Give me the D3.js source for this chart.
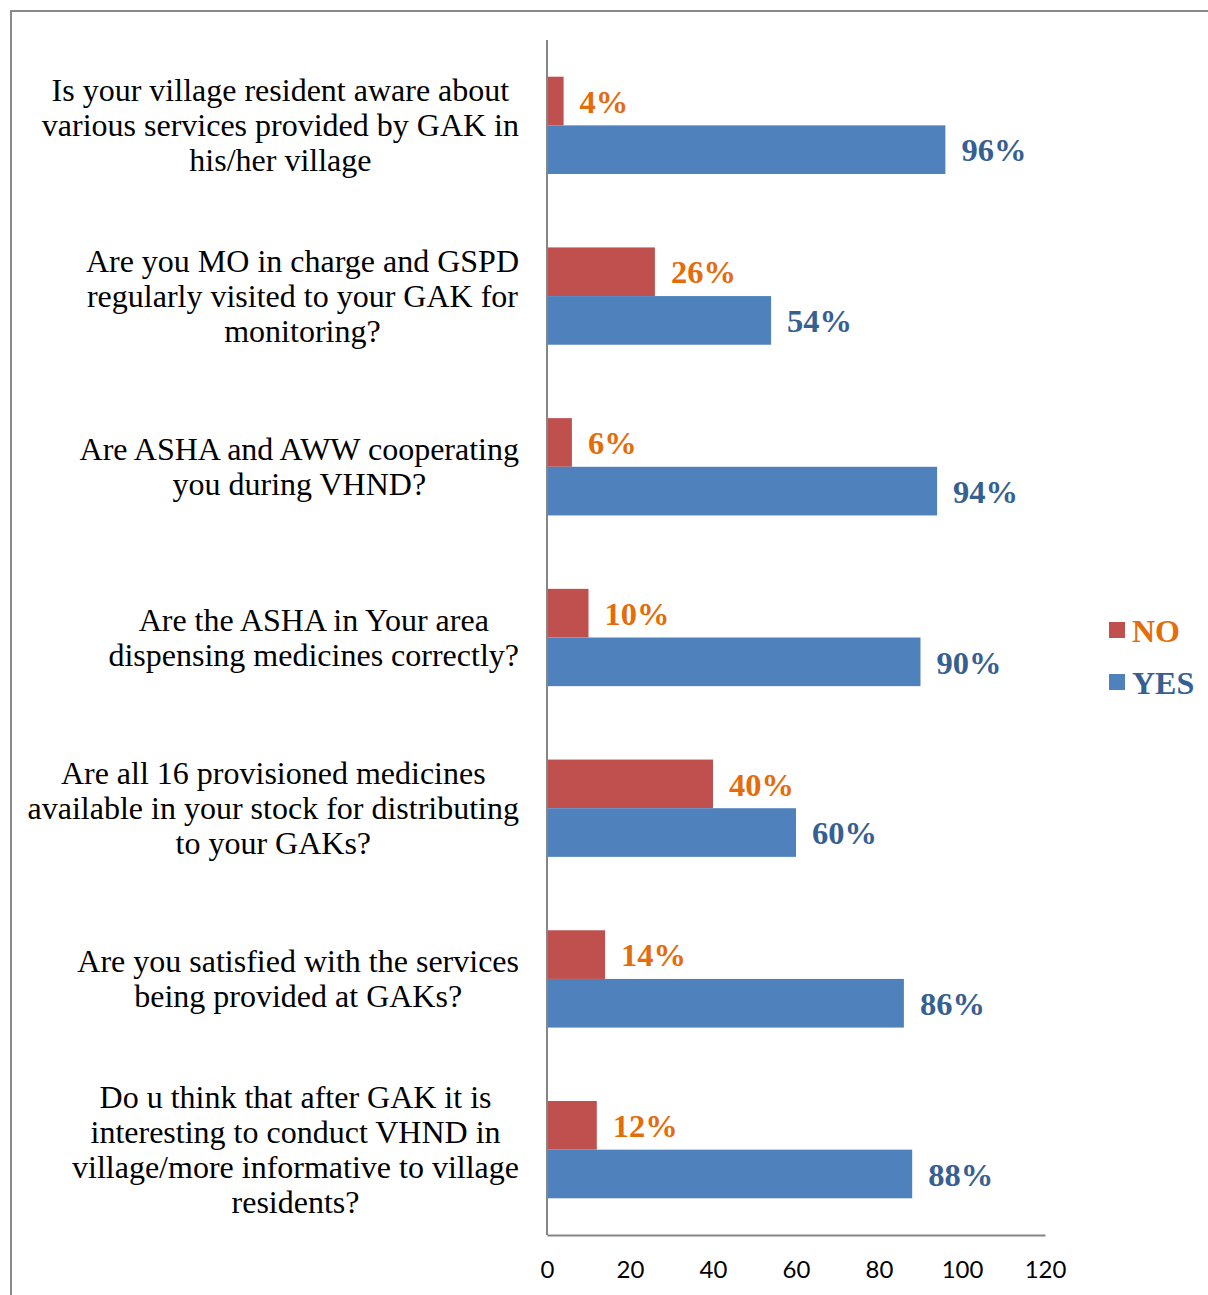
<!DOCTYPE html>
<html><head><meta charset="utf-8">
<script src="https://cdn.jsdelivr.net/npm/d3@7/dist/d3.min.js"></script>
<style>body{margin:0;background:#fff}svg{display:block}</style>
</head><body>
<svg id="c" width="1208" height="1295"></svg>
<script>
const categories = [
  ["Is your village resident aware about","various services provided by GAK in","his/her village"],
  ["Are you MO in charge and GSPD","regularly visited to your GAK for","monitoring?"],
  ["Are ASHA and AWW cooperating","you during VHND?"],
  ["Are the ASHA in Your area","dispensing medicines correctly?"],
  ["Are all 16 provisioned medicines","available in your stock for distributing","to your GAKs?"],
  ["Are you satisfied with the services","being provided at GAKs?"],
  ["Do u think that after GAK it is","interesting to conduct VHND in","village/more informative to village","residents?"]
];
const seriesNames = ["NO","YES"];
const noValues = [4,26,6,10,40,14,12];
const yesValues = [96,54,94,90,60,86,88];
const xTicks = [0,20,40,60,80,100,120];

const barColors = {NO:"#C0504D", YES:"#4F81BD"};
const labelColors = {NO:"#E46C0A", YES:"#376092"};

const svg = d3.select("#c");
// border lines
svg.append("line").attr("x1",10).attr("x2",1208).attr("y1",11).attr("y2",11).attr("stroke","#8a8a8a").attr("stroke-width",2);
svg.append("line").attr("x1",11).attr("x2",11).attr("y1",10).attr("y2",1295).attr("stroke","#8a8a8a").attr("stroke-width",2);

const x = d3.scaleLinear().domain([0,120]).range([547,1045]);
const idx = d3.range(categories.length);
const y = d3.scaleBand().domain(idx).range([40,1235]).paddingInner(0.43).paddingOuter(0.215);
const ys = d3.scaleBand().domain(seriesNames).range([0,y.bandwidth()]);

const data = [];
idx.forEach(i=>{
  data.push({i, s:"NO", v:noValues[i]});
  data.push({i, s:"YES", v:yesValues[i]});
});

svg.append("g").selectAll("rect").data(data).join("rect")
  .attr("x", x(0)).attr("y", d=>y(d.i)+ys(d.s))
  .attr("width", d=>x(d.v)-x(0)).attr("height", ys.bandwidth())
  .attr("fill", d=>barColors[d.s]);

svg.append("g").selectAll("text").data(data).join("text")
  .attr("x", d=>x(d.v)+16).attr("y", d=>y(d.i)+ys(d.s)+ys.bandwidth()/2)
  .attr("dy","0.36em")
  .attr("font-family","'Liberation Serif','Times New Roman',serif")
  .attr("font-weight","bold").attr("font-size",32.5)
  .attr("fill", d=>labelColors[d.s])
  .text(d=>d.v+"%");

// axes
const xAxis = d3.axisBottom(x).tickValues(xTicks).tickSize(0).tickPadding(0);
const gx = svg.append("g").attr("transform","translate(0,1235)").call(xAxis);
gx.select(".domain").attr("stroke","#868686").attr("stroke-width",2);
gx.selectAll("text").attr("font-family","Lato, 'Open Sans', sans-serif").attr("font-size",24).attr("fill","#000").attr("dy",null).attr("y",43);

const yAxis = d3.axisLeft(y).tickSize(0).tickFormat("");
const gy = svg.append("g").attr("transform","translate(547,0)").call(yAxis);
gy.select(".domain").attr("d","M0,40V1235").attr("stroke","#868686").attr("stroke-width",2);

// category labels
const lh = 35;
const labG = svg.append("g").attr("font-family","'Liberation Serif','Times New Roman',serif").attr("font-size",32).attr("fill","#000");
idx.forEach(i=>{
  const lines = categories[i];
  const cy = y(i)+y.bandwidth()/2;
  const t = labG.append("text").attr("text-anchor","middle");
  lines.forEach((ln,k)=>{
    t.append("tspan").attr("x",0).attr("y", cy + (k-(lines.length-1)/2)*lh).attr("dy","0.33em").text(ln);
  });
  const w = t.node().getBBox().width;
  t.selectAll("tspan").attr("x", 519 - w/2);
});

// legend
const leg = svg.append("g");
seriesNames.forEach((s,k)=>{
  const yy = 630 + k*52;
  leg.append("rect").attr("x",1109).attr("y",yy-8).attr("width",16).attr("height",16).attr("fill",barColors[s]);
  leg.append("text").attr("x",1132).attr("y",yy).attr("dy","0.36em")
    .attr("font-family","'Liberation Serif','Times New Roman',serif").attr("font-weight","bold").attr("font-size",32)
    .attr("fill",labelColors[s]).text(s);
});
</script>
</body></html>
